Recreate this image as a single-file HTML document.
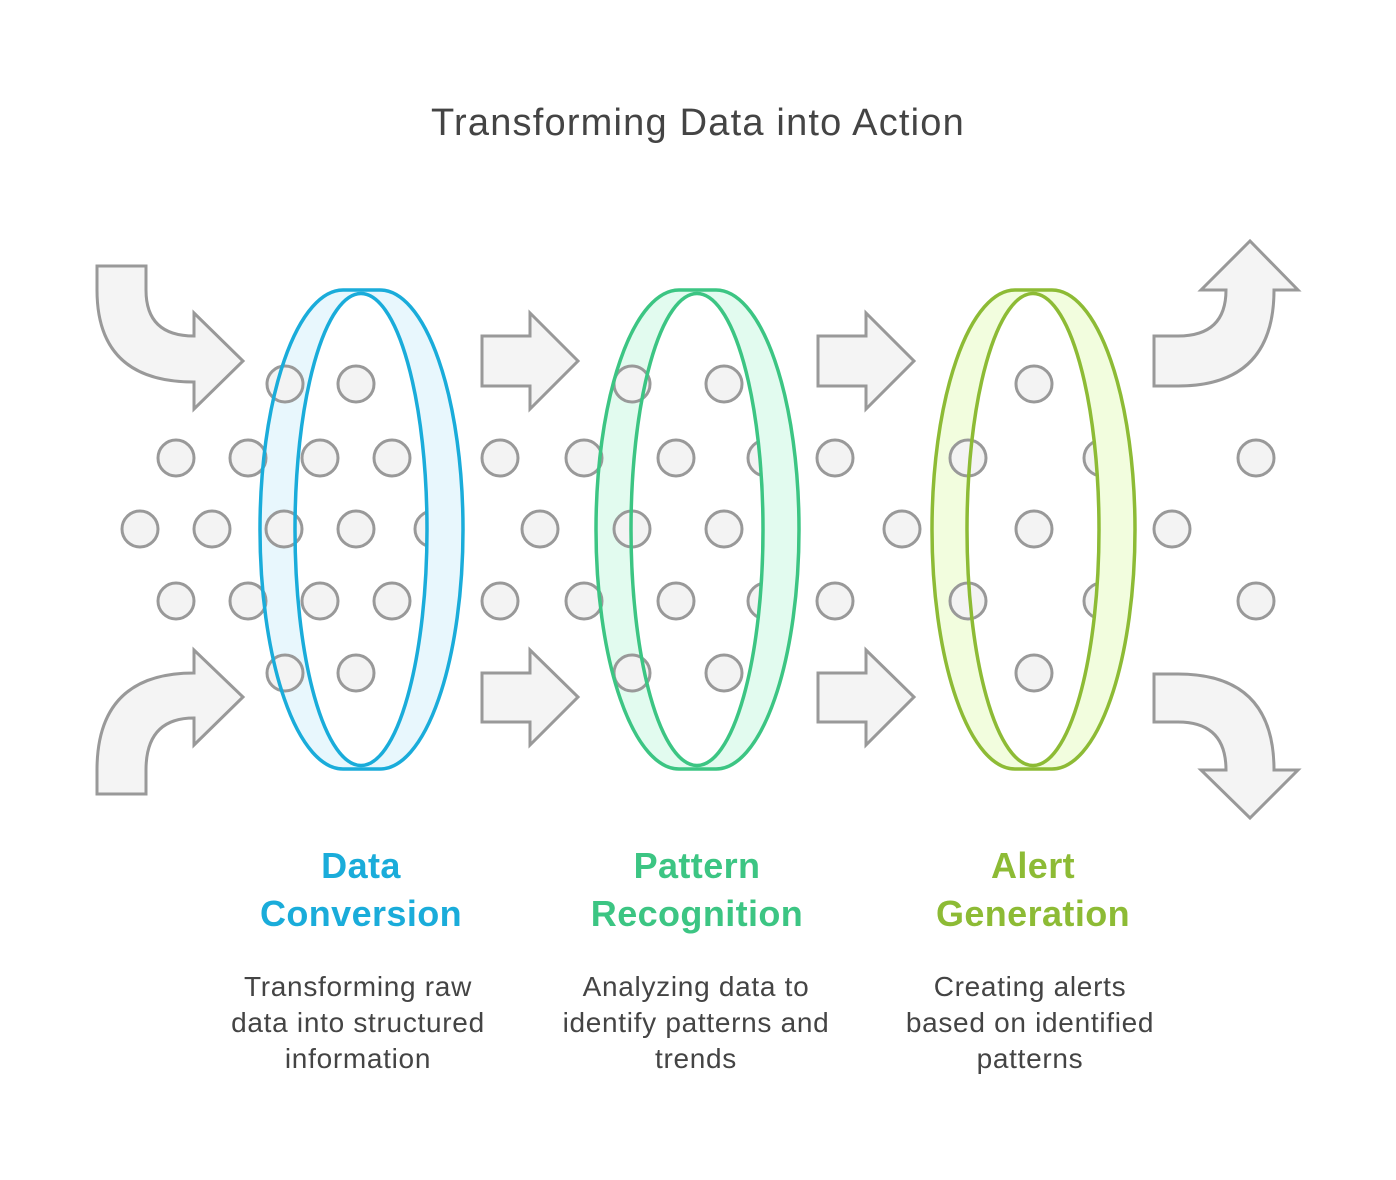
<!DOCTYPE html>
<html><head><meta charset="utf-8"><style>
html,body{margin:0;padding:0;background:#fff;}
svg{display:block;}
text{font-family:"Liberation Sans",sans-serif;}
</style></head><body>
<svg width="1396" height="1180" viewBox="0 0 1396 1180" xmlns="http://www.w3.org/2000/svg">
<defs>
<clipPath id="cr1"><rect x="361" y="0" width="200" height="1180"/></clipPath>
<clipPath id="cr2"><rect x="697" y="0" width="200" height="1180"/></clipPath>
<clipPath id="cr3"><rect x="1033" y="0" width="200" height="1180"/></clipPath>
</defs>
<text x="698" y="135" text-anchor="middle" font-size="38" letter-spacing="1.2" fill="#444">Transforming Data into Action</text>

<g fill="#f4f4f4" stroke="#999" stroke-width="3" stroke-linejoin="miter">
<path d="M97,266 L146,266 L146,290 Q146,336 194,336 L194,313 L243,361 L194,409 L194,382 Q97,382 97,290 Z"/>
<path d="M97,794 L146,794 L146,770 Q146,718 194,718 L194,745 L243,697 L194,650 L194,673 Q97,673 97,770 Z"/>
<path d="M1154,336 L1178,336 Q1226,336 1226,290 L1201,290 L1250,241 L1298,290 L1274,290 Q1274,386 1178,386 L1154,386 Z"/>
<path d="M1154,674 L1178,674 Q1274,674 1274,770 L1298,770 L1250,818 L1201,770 L1226,770 Q1226,722 1178,722 L1154,722 Z"/>
<path d="M482,336 L530,336 L530,313 L578,361 L530,409 L530,386 L482,386 Z"/>
<path d="M482,673 L530,673 L530,650 L578,697 L530,745 L530,722 L482,722 Z"/>
<path d="M818,336 L866,336 L866,313 L914,361 L866,409 L866,386 L818,386 Z"/>
<path d="M818,673 L866,673 L866,650 L914,697 L866,745 L866,722 L818,722 Z"/>
</g>

<path d="M343,290 L380,290 A83,239.5 0 0 1 380,769 L343,769 A83,239.5 0 0 1 343,290 Z" fill="#E8F7FD"/>
<ellipse cx="361" cy="529.5" rx="66" ry="236" fill="#fff"/>
<path d="M679,290 L716,290 A83,239.5 0 0 1 716,769 L679,769 A83,239.5 0 0 1 679,290 Z" fill="#E2FBEF"/>
<ellipse cx="697" cy="529.5" rx="66" ry="236" fill="#fff"/>
<path d="M1015,290 L1052,290 A83,239.5 0 0 1 1052,769 L1015,769 A83,239.5 0 0 1 1015,290 Z" fill="#F2FDDE"/>
<ellipse cx="1033" cy="529.5" rx="66" ry="236" fill="#fff"/>

<g fill="#f3f3f3" stroke="#999" stroke-width="3">
<circle cx="285" cy="384" r="18"/><circle cx="356" cy="384" r="18"/>
<circle cx="632" cy="384" r="18"/><circle cx="724" cy="384" r="18"/>
<circle cx="1034" cy="384" r="18"/>
<circle cx="285" cy="673" r="18"/><circle cx="356" cy="673" r="18"/>
<circle cx="632" cy="673" r="18"/><circle cx="724" cy="673" r="18"/>
<circle cx="1034" cy="673" r="18"/>
<circle cx="176" cy="458" r="18"/><circle cx="248" cy="458" r="18"/><circle cx="320" cy="458" r="18"/><circle cx="392" cy="458" r="18"/>
<circle cx="500" cy="458" r="18"/><circle cx="584" cy="458" r="18"/><circle cx="676" cy="458" r="18"/><circle cx="766" cy="458" r="18"/>
<circle cx="835" cy="458" r="18"/><circle cx="968" cy="458" r="18"/><circle cx="1102" cy="458" r="18"/><circle cx="1256" cy="458" r="18"/>
<circle cx="176" cy="601" r="18"/><circle cx="248" cy="601" r="18"/><circle cx="320" cy="601" r="18"/><circle cx="392" cy="601" r="18"/>
<circle cx="500" cy="601" r="18"/><circle cx="584" cy="601" r="18"/><circle cx="676" cy="601" r="18"/><circle cx="766" cy="601" r="18"/>
<circle cx="835" cy="601" r="18"/><circle cx="968" cy="601" r="18"/><circle cx="1102" cy="601" r="18"/><circle cx="1256" cy="601" r="18"/>
<circle cx="140" cy="529" r="18"/><circle cx="212" cy="529" r="18"/><circle cx="284" cy="529" r="18"/><circle cx="356" cy="529" r="18"/><circle cx="433" cy="529" r="18"/>
<circle cx="540" cy="529" r="18"/><circle cx="632" cy="529" r="18"/><circle cx="724" cy="529" r="18"/>
<circle cx="902" cy="529" r="18"/><circle cx="1034" cy="529" r="18"/><circle cx="1172" cy="529" r="18"/>
</g>

<g fill-rule="evenodd">
<path clip-path="url(#cr1)" fill="#E8F7FD" d="M343,290 L380,290 A83,239.5 0 0 1 380,769 L343,769 A83,239.5 0 0 1 343,290 Z M295,529.5 A66,236 0 1 0 427,529.5 A66,236 0 1 0 295,529.5 Z"/>
<path clip-path="url(#cr2)" fill="#E2FBEF" d="M679,290 L716,290 A83,239.5 0 0 1 716,769 L679,769 A83,239.5 0 0 1 679,290 Z M631,529.5 A66,236 0 1 0 763,529.5 A66,236 0 1 0 631,529.5 Z"/>
<path clip-path="url(#cr3)" fill="#F2FDDE" d="M1015,290 L1052,290 A83,239.5 0 0 1 1052,769 L1015,769 A83,239.5 0 0 1 1015,290 Z M967,529.5 A66,236 0 1 0 1099,529.5 A66,236 0 1 0 967,529.5 Z"/>
</g>

<g fill="none" stroke-width="3.5">
<path stroke="#1AACDA" d="M343,290 L380,290 A83,239.5 0 0 1 380,769 L343,769 A83,239.5 0 0 1 343,290 Z"/>
<ellipse stroke="#1AACDA" cx="361" cy="529.5" rx="66" ry="236"/>
<path stroke="#3CC583" d="M679,290 L716,290 A83,239.5 0 0 1 716,769 L679,769 A83,239.5 0 0 1 679,290 Z"/>
<ellipse stroke="#3CC583" cx="697" cy="529.5" rx="66" ry="236"/>
<path stroke="#8DBB35" d="M1015,290 L1052,290 A83,239.5 0 0 1 1052,769 L1015,769 A83,239.5 0 0 1 1015,290 Z"/>
<ellipse stroke="#8DBB35" cx="1033" cy="529.5" rx="66" ry="236"/>
</g>

<g font-weight="bold" font-size="36" letter-spacing="0.4" text-anchor="middle">
<text x="361" y="878" fill="#1AACDA">Data</text>
<text x="361" y="926" fill="#1AACDA">Conversion</text>
<text x="697" y="878" fill="#3CC583">Pattern</text>
<text x="697" y="926" fill="#3CC583">Recognition</text>
<text x="1033" y="878" fill="#8DBB35">Alert</text>
<text x="1033" y="926" fill="#8DBB35">Generation</text>
</g>
<g font-size="28" letter-spacing="0.7" text-anchor="middle" fill="#444">
<text x="358" y="996">Transforming raw</text>
<text x="358" y="1032">data into structured</text>
<text x="358" y="1068">information</text>
<text x="696" y="996">Analyzing data to</text>
<text x="696" y="1032">identify patterns and</text>
<text x="696" y="1068">trends</text>
<text x="1030" y="996">Creating alerts</text>
<text x="1030" y="1032">based on identified</text>
<text x="1030" y="1068">patterns</text>
</g>
</svg>
</body></html>
